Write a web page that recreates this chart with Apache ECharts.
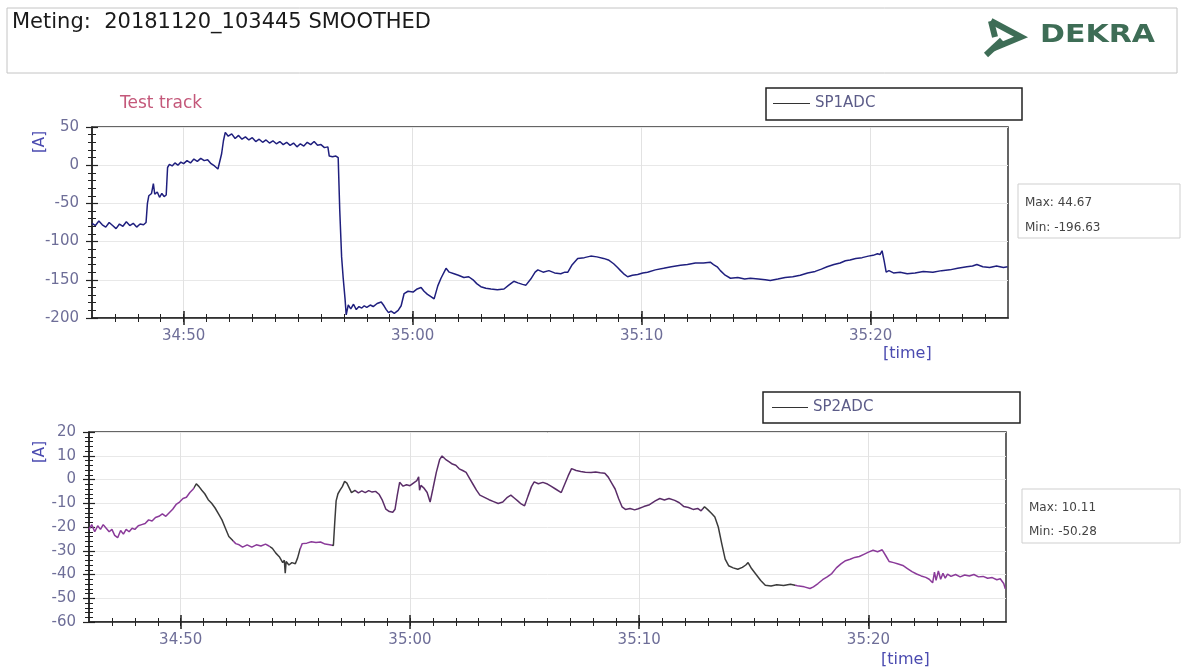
<!DOCTYPE html>
<html><head><meta charset="utf-8">
<script src="https://cdn.jsdelivr.net/npm/echarts@6/dist/echarts.min.js"></script>
<style>html,body{margin:0;padding:0;background:#fff}#c{width:1186px;height:669px}</style>
</head><body><div id="c"></div>
<script>
// time in seconds since 00:00 (2090 = 34:50)
const sp1Points = [
[2086.0,-76],[2086.15,-79],[2086.3,-73],[2086.45,-78],[2086.6,-81],[2086.75,-75],[2086.9,-79],[2087.05,-83],[2087.2,-77],[2087.35,-80],[2087.5,-74],[2087.65,-79],[2087.8,-76],[2087.95,-81],[2088.1,-77],[2088.25,-78],[2088.36,-75],
[2088.42,-50],[2088.48,-40],[2088.6,-37],[2088.68,-24],[2088.74,-38],[2088.85,-35],[2088.95,-42],[2089.05,-37],[2089.15,-41],[2089.24,-39],
[2089.3,-3],[2089.38,1],[2089.5,-1],[2089.62,3],[2089.75,0],[2089.88,4],[2090.0,2],[2090.15,6],[2090.3,3],[2090.45,8],[2090.6,5],[2090.75,9],[2090.9,6],[2091.05,7],[2091.2,2],[2091.35,-1],[2091.5,-5],[2091.58,-3],
[2091.66,15],[2091.74,32],[2091.82,43],[2091.95,38],[2092.1,41],[2092.25,35],[2092.4,39],[2092.55,34],[2092.7,37],[2092.85,33],[2093.0,36],[2093.15,31],[2093.3,34],[2093.45,30],[2093.6,33],[2093.75,29],[2093.9,32],[2094.05,28],[2094.2,31],[2094.35,27],[2094.5,30],[2094.65,26],[2094.8,29],[2094.95,24],[2095.1,28],[2095.25,25],[2095.4,30],[2095.55,27],[2095.7,31],[2095.85,26],[2096.0,27],[2096.15,23],[2096.3,24],
[2096.36,12],[2096.5,11],[2096.65,12],[2096.75,10],[2096.82,-60],[2096.9,-120],[2096.97,-148],[2097.05,-175],[2097.1,-196],[2097.19,-183],[2097.3,-188],[2097.42,-182],[2097.54,-189],[2097.66,-185],[2097.78,-187],[2097.89,-184],[2098.0,-186],[2098.15,-183],[2098.28,-185],[2098.45,-181],[2098.63,-179],[2098.75,-184],[2098.85,-189],[2098.95,-193],[2099.06,-191],[2099.2,-194],[2099.37,-190],[2099.5,-184],[2099.63,-168],[2099.8,-165],[2100.02,-166],[2100.2,-162],[2100.37,-160],[2100.5,-165],[2100.65,-169],[2100.8,-172],[2100.94,-175],[2101.1,-158],[2101.24,-148],[2101.46,-135],[2101.6,-140],[2101.81,-142],[2102.0,-144],[2102.24,-147],[2102.45,-146],[2102.64,-150],[2102.8,-155],[2102.98,-159],[2103.2,-161],[2103.42,-162],[2103.7,-163],[2103.99,-162],[2104.2,-157],[2104.42,-152],[2104.6,-154],[2104.8,-156],[2104.95,-157],[2105.16,-149],[2105.35,-140],[2105.47,-137],[2105.7,-140],[2105.95,-138],[2106.2,-141],[2106.47,-142],[2106.65,-140],[2106.78,-140],[2106.95,-131],[2107.21,-122],[2107.5,-121],[2107.78,-119],[2108.05,-120],[2108.34,-122],[2108.55,-124],[2108.78,-129],[2108.95,-134],[2109.08,-138],[2109.25,-143],[2109.39,-146],[2109.6,-144],[2109.83,-143],[2110.05,-141],[2110.26,-140],[2110.6,-137],[2110.96,-135],[2111.3,-133],[2111.7,-131],[2112.0,-130],[2112.35,-128],[2112.7,-128],[2113.0,-127],[2113.14,-130],[2113.3,-133],[2113.44,-138],[2113.65,-144],[2113.88,-148],[2114.2,-147],[2114.5,-149],[2114.75,-148],[2115.1,-149],[2115.4,-150],[2115.62,-151],[2115.95,-149],[2116.27,-147],[2116.6,-146],[2116.93,-144],[2117.25,-141],[2117.58,-139],[2117.85,-136],[2118.1,-133],[2118.4,-130],[2118.67,-128],[2118.9,-125],[2119.1,-124],[2119.35,-122],[2119.63,-121],[2119.9,-119],[2120.11,-118],[2120.3,-116],[2120.41,-117],[2120.5,-112],[2120.59,-125],[2120.68,-140],[2120.8,-138],[2121.0,-141],[2121.29,-140],[2121.6,-142],[2121.94,-141],[2122.3,-139],[2122.72,-140],[2123.1,-138],[2123.46,-137],[2123.8,-135],[2124.2,-133],[2124.45,-132],[2124.64,-130],[2124.9,-133],[2125.2,-134],[2125.5,-132],[2125.8,-134],[2125.98,-133]
];
const sp2Points = [
[2086.0,-21],[2086.12,-19],[2086.25,-22],[2086.38,-19.5],[2086.5,-21],[2086.62,-19],[2086.75,-20.5],[2086.88,-22],[2087.0,-21],[2087.12,-23.5],[2087.25,-24.5],[2087.38,-21.5],[2087.5,-23],[2087.62,-21],[2087.75,-22],[2087.88,-20.5],[2088.0,-21],[2088.15,-19.5],[2088.3,-19],[2088.45,-18.5],[2088.6,-17],[2088.75,-17.5],[2088.9,-16],[2089.05,-15.5],[2089.2,-14.5],[2089.35,-15.5],[2089.5,-14],[2089.65,-12.5],[2089.8,-10.5],[2089.95,-9.5],[2090.1,-8],[2090.25,-7.5],[2090.4,-5.5],[2090.55,-4],[2090.68,-1.8],[2090.8,-3],[2090.92,-4.5],[2091.05,-6],[2091.2,-8.5],[2091.35,-10],[2091.5,-12],[2091.65,-14.5],[2091.8,-17],[2091.95,-20.5],[2092.1,-24],[2092.25,-25.5],[2092.4,-27],[2092.55,-27.5],[2092.7,-28.5],[2092.9,-27.5],[2093.1,-28.5],[2093.3,-27.5],[2093.5,-28],[2093.7,-27.2],[2093.85,-28],[2094.0,-29],[2094.15,-31],[2094.3,-32.5],[2094.45,-35],[2094.52,-34],[2094.56,-39.5],[2094.6,-34.5],[2094.72,-36],[2094.85,-35],[2095.0,-35.5],[2095.1,-33],[2095.2,-29.5],[2095.3,-27],[2095.5,-26.8],[2095.7,-26.2],[2095.9,-26.5],[2096.1,-26.3],[2096.3,-27.2],[2096.5,-27.5],[2096.66,-27.8],[2096.72,-18],[2096.78,-9],[2096.86,-6],[2096.95,-4.5],[2097.05,-3],[2097.15,-0.8],[2097.25,-1.5],[2097.35,-3.5],[2097.45,-5.5],[2097.6,-4.6],[2097.75,-5.6],[2097.9,-4.8],[2098.05,-5.5],[2098.2,-4.7],[2098.35,-5.3],[2098.5,-5],[2098.65,-6.2],[2098.8,-8.8],[2098.95,-12.5],[2099.1,-13.5],[2099.25,-13.8],[2099.35,-12.5],[2099.45,-6.5],[2099.55,-1.2],[2099.7,-2.8],[2099.85,-2.2],[2100.0,-2.6],[2100.15,-1.5],[2100.3,-0.5],[2100.38,1.1],[2100.42,-4.5],[2100.48,-2.5],[2100.6,-3.5],[2100.75,-5.5],[2100.88,-9.5],[2101.0,-4],[2101.15,3],[2101.3,8.5],[2101.4,9.9],[2101.55,8.5],[2101.7,7.5],[2101.85,6.5],[2102.0,6],[2102.15,4.5],[2102.3,3.8],[2102.45,3],[2102.6,0.5],[2102.75,-2],[2102.9,-4.5],[2103.05,-6.6],[2103.25,-7.5],[2103.45,-8.5],[2103.65,-9.3],[2103.85,-10.1],[2104.05,-9.5],[2104.25,-7.5],[2104.4,-6.6],[2104.55,-7.8],[2104.7,-9],[2104.85,-10.3],[2105.0,-11.1],[2105.15,-7],[2105.3,-3],[2105.42,-1],[2105.6,-1.8],[2105.8,-1.2],[2106.0,-1.9],[2106.15,-2.8],[2106.35,-4],[2106.6,-5.5],[2106.75,-2],[2106.9,1.5],[2107.05,4.6],[2107.25,3.8],[2107.45,3.4],[2107.65,3.1],[2107.9,2.9],[2108.1,3.2],[2108.3,2.8],[2108.5,2.6],[2108.65,1],[2108.8,-1.5],[2108.95,-4],[2109.1,-8],[2109.25,-11.5],[2109.4,-12.6],[2109.6,-12.2],[2109.8,-12.8],[2109.96,-12.3],[2110.2,-11.4],[2110.45,-10.6],[2110.7,-9],[2110.9,-8],[2111.1,-8.6],[2111.3,-8],[2111.55,-8.8],[2111.75,-9.8],[2111.95,-11.4],[2112.15,-11.8],[2112.35,-12.6],[2112.55,-12.2],[2112.7,-13.2],[2112.85,-11.5],[2113.0,-12.8],[2113.15,-14.2],[2113.3,-15.8],[2113.45,-20],[2113.6,-27],[2113.75,-33.5],[2113.9,-36.3],[2114.1,-37.2],[2114.3,-37.8],[2114.5,-37],[2114.65,-36],[2114.75,-35],[2114.9,-37.5],[2115.1,-40],[2115.3,-42.5],[2115.5,-44.5],[2115.75,-44.8],[2116.0,-44.3],[2116.3,-44.6],[2116.6,-44.1],[2116.9,-44.7],[2117.2,-45.2],[2117.45,-45.9],[2117.6,-45.2],[2117.8,-43.8],[2118.0,-42.2],[2118.2,-41],[2118.4,-39.6],[2118.6,-37.2],[2118.8,-35.5],[2119.0,-34.2],[2119.2,-33.6],[2119.4,-32.8],[2119.6,-32.4],[2119.8,-31.5],[2120.0,-30.6],[2120.2,-29.8],[2120.4,-30.4],[2120.6,-29.6],[2120.75,-32],[2120.9,-34.5],[2121.1,-35],[2121.3,-35.6],[2121.5,-36.2],[2121.7,-37.5],[2121.9,-38.8],[2122.1,-39.8],[2122.3,-40.6],[2122.5,-41.2],[2122.65,-42],[2122.8,-43.5],[2122.88,-39],[2122.95,-42.5],[2123.05,-38.5],[2123.15,-42],[2123.25,-39.5],[2123.35,-41.5],[2123.45,-39.8],[2123.6,-40.8],[2123.8,-40],[2124.0,-41],[2124.2,-40.2],[2124.4,-40.6],[2124.6,-40],[2124.8,-41],[2125.0,-40.8],[2125.2,-41.6],[2125.4,-41.3],[2125.6,-42.2],[2125.75,-41.8],[2125.9,-43.8],[2125.97,-46]
];
const xLabelTimes = [2090, 2100, 2110, 2120];
const xRange = [2086, 2126];
const y1Range = [-200, 50, 50];
const y2Range = [-60, 20, 10];
const seriesNames = ['SP1ADC', 'SP2ADC'];
const statTexts = [['Max: 44.67', 'Min: -196.63'], ['Max: 10.11', 'Min: -50.28']];

const secTicks = [];
for (let s = xRange[0] + 1; s < xRange[1]; s++) secTicks.push(s);
const fmt = v => Math.floor(v / 60) + ':' + String(Math.round(v % 60)).padStart(2, '0');
const FONT = 'DejaVu Sans';
const LBL = '#6e6e98';
const AX = '#222';

function xAxes(g) {
  const base = {gridIndex: g, type: 'value', min: xRange[0], max: xRange[1], position: 'bottom', splitLine: {show: false}, axisLabel: {show: false}, axisLine: {show: false, onZero: false}};
  return [
    Object.assign({}, base, {axisLine: {show: true, onZero: false, lineStyle: {color: AX, width: 1.5}},
      axisTick: {show: true, customValues: secTicks, length: 4, lineStyle: {color: AX}},
      axisLabel: {show: true, customValues: xLabelTimes, formatter: fmt, color: LBL, fontFamily: FONT, fontSize: 15, margin: 11}}),
    Object.assign({}, base, {axisTick: {show: true, customValues: xLabelTimes, length: 7, lineStyle: {color: AX, width: 1.5}},
      splitLine: {show: true, lineStyle: {color: '#e2e2e2', width: 1}}}),
    Object.assign({}, base, {axisTick: {show: true, inside: true, customValues: secTicks, length: 4, lineStyle: {color: AX}}}),
    Object.assign({}, base, {axisTick: {show: true, inside: true, customValues: xLabelTimes, length: 7, lineStyle: {color: AX, width: 1.5}}})
  ];
}
function yAxes(g, r) {
  const base = {gridIndex: g, type: 'value', min: r[0], max: r[1], interval: r[2], position: 'left'};
  return [
    Object.assign({}, base, {axisLine: {show: true, onZero: false, lineStyle: {color: AX, width: 1.5}},
      axisTick: {show: true, length: 6, lineStyle: {color: AX, width: 1.2}},
      minorTick: {show: true, splitNumber: 5, length: 4, lineStyle: {color: AX}},
      axisLabel: {color: LBL, fontFamily: FONT, fontSize: 15, margin: 13},
      splitLine: {show: true, lineStyle: {color: '#e8e8e8'}}}),
    Object.assign({}, base, {axisLine: {show: false, onZero: false}, axisLabel: {show: false}, splitLine: {show: false},
      axisTick: {show: true, inside: true, length: 6, lineStyle: {color: AX, width: 1.2}},
      minorTick: {show: true, splitNumber: 5, length: 4, lineStyle: {color: AX}}})
  ];
}

const P = '#8a3a99', D = '#3b3b3b', M = '#5a2d68';
const chart = echarts.init(document.getElementById('c'), null, {renderer: 'canvas'});
chart.setOption({
  backgroundColor: '#fff',
  animation: false,
  grid: [
    {left: 92, top: 127, width: 916, height: 191, show: true, borderColor: '#333', borderWidth: 1.5, backgroundColor: 'transparent'},
    {left: 89, top: 432, width: 917, height: 190, show: true, borderColor: '#333', borderWidth: 1.5, backgroundColor: 'transparent'}
  ],
  xAxis: xAxes(0).concat(xAxes(1)),
  yAxis: yAxes(0, y1Range).concat(yAxes(1, y2Range)),
  legend: [
    {data: [seriesNames[0]], left: 773, top: 96, padding: 0, icon: 'rect', itemWidth: 37, itemHeight: 1.2,
      itemStyle: {color: '#333'}, textStyle: {color: '#5c5c88', fontFamily: FONT, fontSize: 15}, selectedMode: false},
    {data: [seriesNames[1]], left: 772, top: 400, padding: 0, icon: 'rect', itemWidth: 36, itemHeight: 1.2,
      itemStyle: {color: '#333'}, textStyle: {color: '#5c5c88', fontFamily: FONT, fontSize: 15}, selectedMode: false}
  ],
  visualMap: {type: 'piecewise', show: false, seriesIndex: 1, dimension: 0,
    pieces: [
      {lt: 2090.6, color: P}, {gte: 2090.6, lt: 2092.3, color: D}, {gte: 2092.3, lt: 2093.9, color: P},
      {gte: 2093.9, lt: 2095.2, color: D}, {gte: 2095.2, lt: 2096.6, color: P}, {gte: 2096.6, lt: 2097.6, color: D},
      {gte: 2097.6, lt: 2112.8, color: M}, {gte: 2112.8, lt: 2116.8, color: D}, {gte: 2116.8, color: P}
    ]},
  series: [
    {name: seriesNames[0], type: 'line', xAxisIndex: 0, yAxisIndex: 0, data: sp1Points, symbol: 'none', showSymbol: false,
      lineStyle: {color: '#1f1f7e', width: 1.5}, itemStyle: {color: '#1f1f7e'}},
    {name: seriesNames[1], type: 'line', xAxisIndex: 4, yAxisIndex: 2, data: sp2Points, symbol: 'none', showSymbol: false,
      lineStyle: {width: 1.5}}
  ],
  graphic: [
    {type: 'rect', shape: {x: 7, y: 8, width: 1170, height: 65}, style: {fill: '#fff', stroke: '#c4c4c4', lineWidth: 1}},
    {type: 'text', x: 12, y: 23, style: {text: 'Meting:  20181120_103445 SMOOTHED', font: '21px "DejaVu Sans"', fill: '#1a1a1a', textVerticalAlign: 'middle'}},
    {type: 'polyline', shape: {points: [[991, 21], [1021, 37], [992, 49]]}, style: {stroke: '#3e6d56', lineWidth: 6, fill: null, lineJoin: 'miter'}},
    {type: 'line', shape: {x1: 991, y1: 21, x2: 995, y2: 37}, style: {stroke: '#3e6d56', lineWidth: 6}},
    {type: 'line', shape: {x1: 1002, y1: 40, x2: 986, y2: 55}, style: {stroke: '#3e6d56', lineWidth: 6}},
    {type: 'text', x: 1040, y: 35, scaleX: 1.2, style: {text: 'DEKRA', font: 'bold 25px "DejaVu Sans"', fill: '#3e6d56', textVerticalAlign: 'middle'}},
    {type: 'text', x: 120, y: 104, style: {text: 'Test track', font: '17px "DejaVu Sans"', fill: '#c4587a', textVerticalAlign: 'middle'}},
    {type: 'rect', shape: {x: 766, y: 88, width: 256, height: 32}, style: {fill: 'transparent', stroke: '#222', lineWidth: 1.5}},
    {type: 'rect', shape: {x: 763, y: 392, width: 257, height: 31}, style: {fill: 'transparent', stroke: '#222', lineWidth: 1.5}},
    {type: 'rect', shape: {x: 1018, y: 184, width: 162, height: 54}, style: {fill: '#fff', stroke: '#cfcfcf', lineWidth: 1}},
    {type: 'text', x: 1025, y: 203, style: {text: statTexts[0][0], font: '12px "DejaVu Sans"', fill: '#444', textVerticalAlign: 'middle'}},
    {type: 'text', x: 1025, y: 228, style: {text: statTexts[0][1], font: '12px "DejaVu Sans"', fill: '#444', textVerticalAlign: 'middle'}},
    {type: 'rect', shape: {x: 1022, y: 489, width: 158, height: 54}, style: {fill: '#fff', stroke: '#cfcfcf', lineWidth: 1}},
    {type: 'text', x: 1029, y: 508, style: {text: statTexts[1][0], font: '12px "DejaVu Sans"', fill: '#444', textVerticalAlign: 'middle'}},
    {type: 'text', x: 1029, y: 532, style: {text: statTexts[1][1], font: '12px "DejaVu Sans"', fill: '#444', textVerticalAlign: 'middle'}},
    {type: 'text', x: 40, y: 142, rotation: Math.PI / 2, style: {text: '[A]', font: '15px "DejaVu Sans"', fill: '#4b4bb0', textAlign: 'center', textVerticalAlign: 'middle'}},
    {type: 'text', x: 40, y: 452, rotation: Math.PI / 2, style: {text: '[A]', font: '15px "DejaVu Sans"', fill: '#4b4bb0', textAlign: 'center', textVerticalAlign: 'middle'}},
    {type: 'text', x: 883, y: 354, style: {text: '[time]', font: '16px "DejaVu Sans"', fill: '#4b4bb0', textVerticalAlign: 'middle'}},
    {type: 'text', x: 881, y: 660, style: {text: '[time]', font: '16px "DejaVu Sans"', fill: '#4b4bb0', textVerticalAlign: 'middle'}}
  ]
});
</script>
</body></html>
